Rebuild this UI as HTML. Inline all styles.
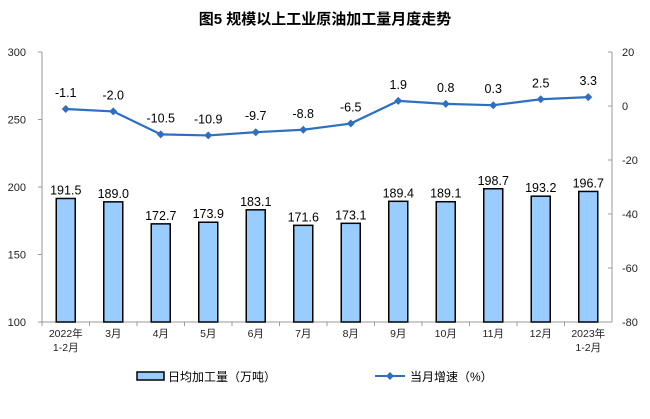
<!DOCTYPE html>
<html><head><meta charset="utf-8"><style>
body{margin:0;background:#fff;}
svg text{font-family:"Liberation Sans","Noto Sans CJK SC",sans-serif;}
</style></head><body>
<svg id="chart" width="650" height="414" viewBox="0 0 650 414">
<text x="325" y="24" text-anchor="middle" font-size="15" font-weight="bold" fill="#000">图5  规模以上工业原油加工量月度走势</text>
<g id="axes"></g>
<g id="bars"></g>
<g id="line"></g>
<g>
<rect x="137" y="372" width="27" height="8" fill="#99CCFF" stroke="#000" stroke-width="1.5"/>
<text x="168" y="381" font-size="12">日均加工量（万吨）</text>
<line x1="375" y1="376" x2="405" y2="376" stroke="#2E6FC0" stroke-width="2"/>
<path d="M390 372 L394 376 L390 380 L386 376Z" fill="#2E6FC0"/>
<text x="410" y="381" font-size="12">当月增速（%）</text>
</g>
</svg>
<script>
const categories=["2022年|1-2月","3月","4月","5月","6月","7月","8月","9月","10月","11月","12月","2023年|1-2月"];
const volume=[191.5,189.0,172.7,173.9,183.1,171.6,173.1,189.4,189.1,198.7,193.2,196.7];
const growth=[-1.1,-2.0,-10.5,-10.9,-9.7,-8.8,-6.5,1.9,0.8,0.3,2.5,3.3];
const leftTicks=[100,150,200,250,300];
const rightTicks=[-80,-60,-40,-20,0,20];
const NS="http://www.w3.org/2000/svg";
const X0=42,X1=612,Y0=322,Y1=52;
const bw=(X1-X0)/categories.length;
const xc=i=>X0+bw*(i+0.5);
const yL=v=>Y0-(v-100)/200*(Y0-Y1);
const yR=v=>Y0-(v+80)/100*(Y0-Y1);
function mk(tag,attrs,parent,txt){const e=document.createElementNS(NS,tag);for(const k in attrs)e.setAttribute(k,attrs[k]);if(txt!==undefined)e.textContent=txt;parent.appendChild(e);return e;}
const axes=document.getElementById('axes');
let e=mk('line',{x1:X0,y1:Y1,x2:X0,y2:Y0,stroke:'#999'},axes);


e=mk('line',{x1:X1,y1:Y1,x2:X1,y2:Y0,stroke:'#999'},axes);


e=mk('line',{x1:X0,y1:Y0,x2:X1,y2:Y0,stroke:'#999'},axes);


leftTicks.forEach(t=>{
 mk('line',{x1:X0-4,y1:yL(t),x2:X0,y2:yL(t),stroke:'#999'},axes);
 e=mk('text',{x:26,y:yL(t)+4,'text-anchor':'end','font-size':11,fill:'#222'},axes,t);
 
 
});
rightTicks.forEach(t=>{
 mk('line',{x1:X1-4,y1:yR(t),x2:X1,y2:yR(t),stroke:'#999'},axes);
 e=mk('text',{x:622,y:yR(t)+4,'font-size':11,fill:'#222'},axes,t);
 
 
});
categories.forEach((c,i)=>{
 mk('line',{x1:X0+bw*i,y1:Y0,x2:X0+bw*i,y2:Y0+4,stroke:'#999'},axes);
 const parts=c.split('|');
 parts.forEach((p,j)=>{
  e=mk('text',{x:xc(i),y:337+j*14,'text-anchor':'middle','font-size':10.5,fill:'#222'},axes,p);
  
  
 });
});
const bars=document.getElementById('bars');
volume.forEach((v,i)=>{
 e=mk('rect',{x:xc(i)-9.5,y:yL(v),width:19,height:Y0-yL(v),fill:'#99CCFF',stroke:'#000','stroke-width':1.5},bars);
 
 
 e=mk('text',{x:xc(i),y:yL(v)-4,'text-anchor':'middle','font-size':12.5,fill:'#000'},bars,v.toFixed(1));
 
 
});
const line=document.getElementById('line');
e=mk('polyline',{points:growth.map((g,i)=>xc(i)+','+yR(g)).join(' '),fill:'none',stroke:'#2E6FC0','stroke-width':2.2},line);


growth.forEach((g,i)=>{
 const x=xc(i),y=yR(g);
 e=mk('path',{d:`M${x} ${y-4}L${x+4} ${y}L${x} ${y+4}L${x-4} ${y}Z`,fill:'#2E6FC0'},line);
 
 
 e=mk('text',{x:x,y:y-12,'text-anchor':'middle','font-size':12.5,fill:'#000'},line,g.toFixed(1));
 
 
});
</script>
</body></html>
